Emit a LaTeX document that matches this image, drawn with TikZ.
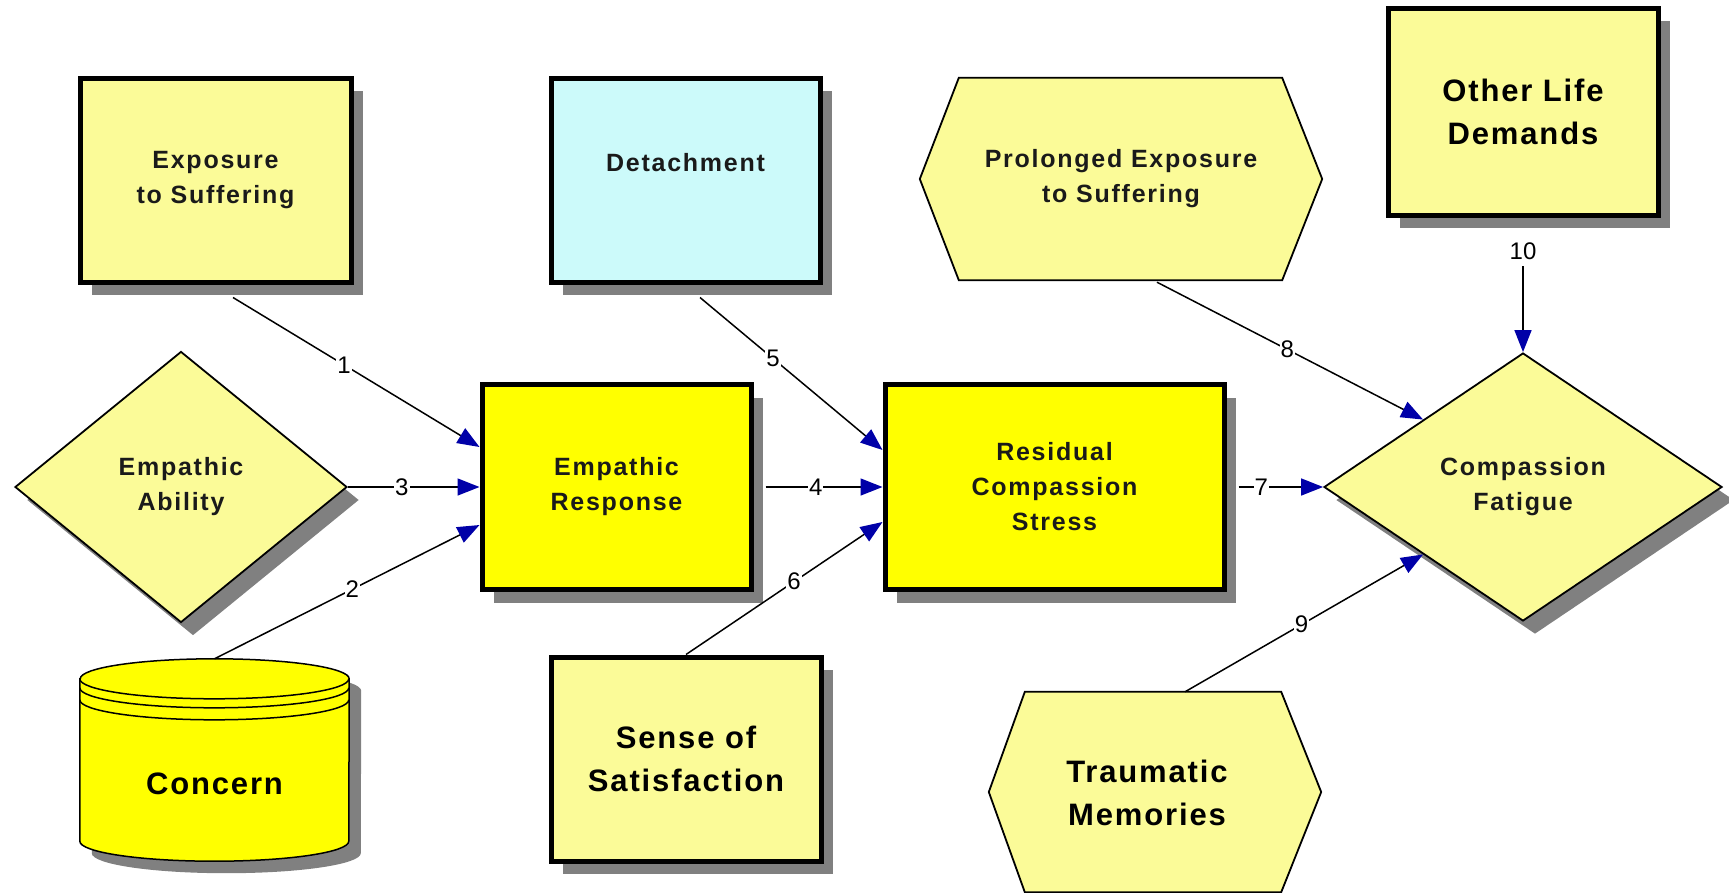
\documentclass[tikz,border=0pt]{standalone}
\usepackage{fontspec}
\setmainfont{Liberation Sans}
\newfontfamily\nodefont[LetterSpace=7]{Liberation Sans}
\newfontfamily\bignodefont[LetterSpace=6]{Liberation Sans}
\usetikzlibrary{arrows.meta,calc,shadows,shapes.geometric}
\definecolor{ly}{HTML}{FBFB98}
\definecolor{by}{HTML}{FFFF00}
\definecolor{cy}{HTML}{CCFAFA}
\definecolor{shg}{HTML}{808080}
\definecolor{ab}{HTML}{0000A8}
\definecolor{txt}{HTML}{1A1A1A}
\tikzset{
  sh/.style={drop shadow={shadow xshift=12pt,shadow yshift=-13pt,fill=shg,opacity=1}},
  recbox/.style={rectangle,draw=black,line width=5pt,inner sep=0pt,sh},
  dia/.style={diamond,draw=black,line width=1.8pt,inner sep=0pt,sh,fill=ly},
  hexline/.style={fill=ly,draw=black,line width=1.8pt,line join=miter},
  smalltxt/.style={font=\nodefont\bfseries\fontsize{25}{35}\selectfont,align=center,text=txt},
  bigtxt/.style={font=\bignodefont\bfseries\fontsize{31}{43}\selectfont,align=center,text=black},
  numlbl/.style={font=\fontsize{24}{24}\selectfont,fill=white,inner xsep=1pt,inner ysep=2pt},
  conn/.style={line width=1.5pt,draw=black,-{Triangle[length=22pt,width=17pt,color=ab]}},
  cylline/.style={draw=black,line width=1.5pt}
}
\begin{document}
\begin{tikzpicture}[x=1pt,y=-1pt]
\useasboundingbox (0,0) rectangle (1729,892);

% rectangles
\node[recbox,fill=ly,minimum width=271pt,minimum height=204pt,smalltxt] (expo) at (215.5,180) {Exposure\\to Suffering};
\node[recbox,fill=cy,minimum width=269pt,minimum height=204pt,smalltxt,text height=20pt,text depth=38pt] (detach) at (685.5,180) {Detachment};
\node[recbox,fill=ly,minimum width=270pt,minimum height=207pt,bigtxt] (ol) at (1523,111.5) {Other Life\\Demands};
\node[recbox,fill=by,minimum width=269pt,minimum height=205pt,smalltxt] (er) at (616.5,487) {Empathic\\Response};
\node[recbox,fill=by,minimum width=339pt,minimum height=205pt,smalltxt] (res) at (1054.5,487) {Residual\\Compassion\\Stress};
\node[recbox,fill=ly,minimum width=270pt,minimum height=204pt,bigtxt] (sense) at (686,759) {Sense of\\Satisfaction};

% diamonds
\node[dia,minimum width=332pt,minimum height=271pt,smalltxt] (ability) at (181,487) {Empathic\\Ability};
\node[dia,minimum width=398pt,minimum height=268pt,smalltxt] (cf) at (1523,487) {Compassion\\Fatigue};

% hexagons
\node[minimum width=402pt,minimum height=202pt,inner sep=0pt] (pe) at (1121,179) {};
\filldraw[hexline] (pe.west) -- ([xshift=39pt]pe.north west) -- ([xshift=-40pt]pe.north east) -- (pe.east) -- ([xshift=-40pt]pe.south east) -- ([xshift=39pt]pe.south west) -- cycle;
\node[smalltxt] (petxt) at (pe) {Prolonged Exposure\\to Suffering};

\node[minimum width=332pt,minimum height=200pt,inner sep=0pt] (tm) at (1155,792) {};
\filldraw[hexline] (tm.west) -- ([xshift=36pt]tm.north west) -- ([xshift=-40pt]tm.north east) -- (tm.east) -- ([xshift=-40pt]tm.south east) -- ([xshift=36pt]tm.south west) -- cycle;
\node[bigtxt] (tmtxt) at ($(tm.center)+(-8,1)$) {Traumatic\\Memories};

% cylinder
\node[minimum width=269pt,minimum height=202pt,inner sep=0pt] (concern) at (214.5,760) {};
\fill[shg] ($(concern.north west)+(12,32)$) -- ($(concern.south west)+(12,-8)$) arc[start angle=180,end angle=360,x radius=134.5pt,y radius=20pt] -- ($(concern.north east)+(12,32)$) arc[start angle=0,end angle=180,x radius=134.5pt,y radius=20pt] -- cycle;
\filldraw[fill=by,cylline] ($(concern.north west)+(0,20)$) -- ($(concern.south west)+(0,-20)$) arc[start angle=180,end angle=360,x radius=134.5pt,y radius=20pt] -- ($(concern.north east)+(0,20)$) arc[start angle=0,end angle=180,x radius=134.5pt,y radius=20pt] -- cycle;
\draw[cylline] ($(concern.north west)+(0,20)$) arc[start angle=180,end angle=360,x radius=134.5pt,y radius=20pt];
\draw[cylline] ($(concern.north west)+(0,29)$) arc[start angle=180,end angle=360,x radius=134.5pt,y radius=20pt];
\draw[cylline] ($(concern.north west)+(0,41)$) arc[start angle=180,end angle=360,x radius=134.5pt,y radius=20pt];
\node[bigtxt] (concerntxt) at ($(concern.center)+(0,24)$) {Concern};

% connectors
\draw[conn] ($(expo.south)+(17.5,13)$) -- node[numlbl,pos=0.45] (l1) {1} ([yshift=40pt]er.west);
\draw[conn] (concern.north) -- node[numlbl,pos=0.52] (l2) {2} ([yshift=-38pt]er.west);
\draw[conn] (ability.east) -- node[numlbl,pos=0.41] (l3) {3} (er.west);
\draw[conn] ([xshift=12pt]er.east) -- node[numlbl,pos=0.43] (l4) {4} (res.west);
\draw[conn] ($(detach.south)+(14.5,13)$) -- node[numlbl,pos=0.40] (l5) {5} ([yshift=37pt]res.west);
\draw[conn] (sense.north) -- node[numlbl,pos=0.55] (l6) {6} ([yshift=-35pt]res.west);
\draw[conn] ([xshift=12pt]res.east) -- node[numlbl,pos=0.27] (l7) {7} (cf.west);
\draw[conn] ($(pe.south)+(36,2)$) -- node[numlbl,pos=0.49] (l8) {8} ($(cf.west)!0.5!(cf.north)$);
\draw[conn] ($(tm.north)+(30,0)$) -- node[numlbl,pos=0.49] (l9) {9} ($(cf.west)!0.5!(cf.south)$);
\draw[conn] ([yshift=-20pt]ol.south) -- node[numlbl,pos=0.12,inner ysep=6pt] (l10) {10} (cf.north);
\end{tikzpicture}
\end{document}
